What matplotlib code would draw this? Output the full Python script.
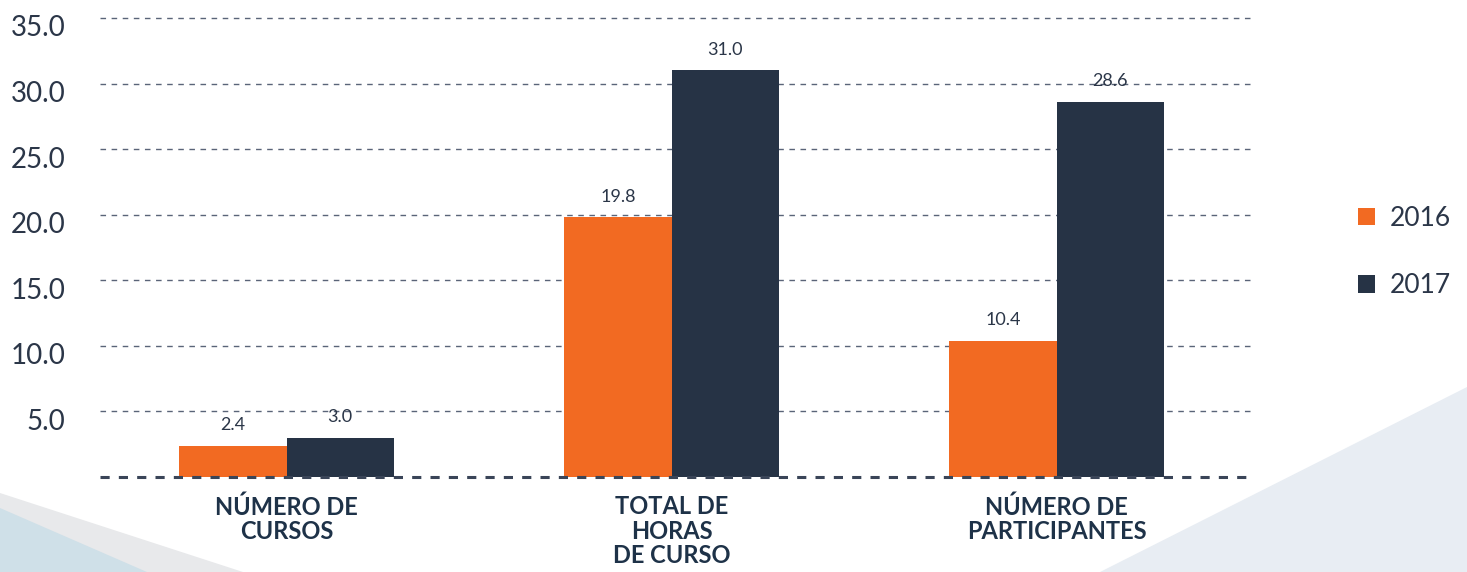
import matplotlib
matplotlib.use("Agg")
import matplotlib.pyplot as plt
import matplotlib.transforms as mtransforms
from matplotlib.patches import Polygon
import numpy as np

categories = ["NÚMERO DE\nCURSOS", "TOTAL DE\nHORAS\nDE CURSO", "NÚMERO DE\nPARTICIPANTES"]
series_names = ["2016", "2017"]
values_2016 = [2.4, 19.8, 10.4]
values_2017 = [3.0, 31.0, 28.6]
yticks = [5, 10, 15, 20, 25, 30, 35]

ORANGE = "#F26A22"
NAVY = "#263345"
TEXT = "#2B3648"
CAT = "#1E3248"

W, H = 1467, 572
fig = plt.figure(figsize=(W / 100, H / 100), dpi=100)
fig.patch.set_facecolor("white")

# background decorations (figure coords)
bg = fig.add_axes([0, 0, 1, 1], zorder=-10)
bg.set_xlim(0, W); bg.set_ylim(H, 0); bg.axis("off")
bg.add_patch(Polygon([(0, 493), (243, 572), (0, 572)], closed=True, color="#E8E9EB", lw=0))
bg.add_patch(Polygon([(0, 508), (147, 572), (0, 572)], closed=True, color="#CFE0E8", lw=0))
bg.add_patch(Polygon([(1100, 572), (1467, 387), (1467, 572)], closed=True, color="#E8EDF3", lw=0))

left = 100 / W
width = 1155 / W
bottom = (H - 477) / H
top = (H - 18) / H
ax = fig.add_axes([left, bottom, width, top - bottom])
ax.patch.set_alpha(0)

x = np.arange(len(categories))
bw = 0.279
b1 = ax.bar(x - bw / 2, values_2016, bw, color=ORANGE, label=series_names[0], zorder=3)
b2 = ax.bar(x + bw / 2, values_2017, bw, color=NAVY, label=series_names[1], zorder=3)

for bars, vals in ((b1, values_2016), (b2, values_2017)):
    for r, v in zip(bars, vals):
        ax.annotate(f"{v:.1f}", (r.get_x() + r.get_width() / 2, v), xytext=(0, 9),
                    textcoords="offset points", ha="center", va="bottom",
                    fontsize=13, color=TEXT, family="Lato")

ax.set_xlim((100 - 286.5) / 385, (1255 - 286.5) / 385)
ax.set_ylim(0, 35)

for t in yticks:
    ax.axhline(t, color="#5A6478", lw=1.0, ls=(0, (4, 4)), zorder=1, clip_on=False)
ax.axhline(0, color="#3A4558", lw=2.2, ls=(0, (3, 3)), zorder=4, clip_on=False)

ax.set_yticks(yticks)
ax.set_yticklabels([f"{t:.1f}" for t in yticks], fontsize=20, color=TEXT, family="Lato")
ax.tick_params(axis="y", length=0, pad=25)
offset = mtransforms.ScaledTranslation(0, -8 / 100, fig.dpi_scale_trans)
for lab in ax.get_yticklabels():
    lab.set_transform(lab.get_transform() + offset)

ax.set_xticks(x)
ax.set_xticklabels(categories, fontsize=17, fontweight="bold", color=CAT,
                   family="Lato", linespacing=1.08, va="top")
ax.tick_params(axis="x", length=0, pad=13)

for s in ax.spines.values():
    s.set_visible(False)

leg = fig.legend(handles=[b1, b2], labels=series_names, loc="center left",
                 bbox_to_anchor=(1358 / W, 1 - 252 / H), bbox_transform=fig.transFigure,
                 frameon=False, handlelength=0.65, handleheight=0.65, borderpad=0,
                 borderaxespad=0, handletextpad=0.55, labelspacing=1.6,
                 prop={"family": "Lato", "size": 19})
for t in leg.get_texts():
    t.set_color(TEXT)

fig.savefig("out.png", dpi=100)
